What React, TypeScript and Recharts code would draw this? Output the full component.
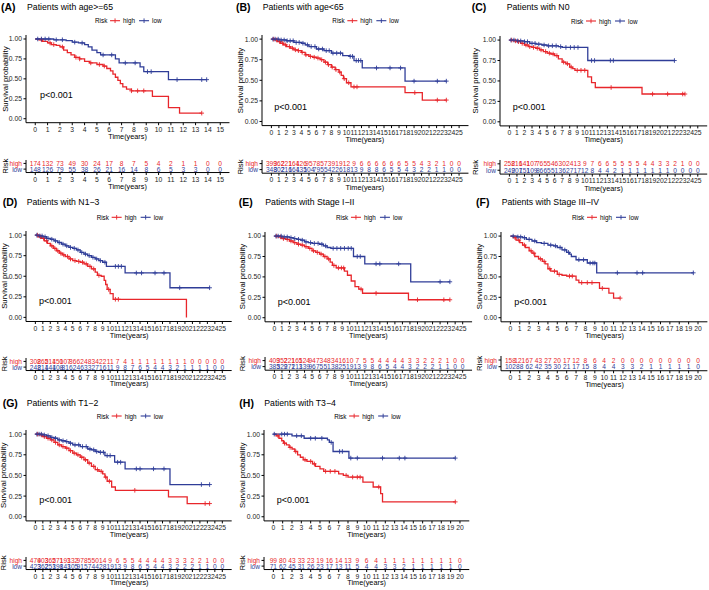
import React from 'react';
import { ComposedChart, Line, Scatter, XAxis, YAxis } from 'recharts';

type Pt = [number, number];

const RED = '#E8262B';
const BLUE = '#2F3D98';
const FONT = '"Liberation Sans", Arial, Helvetica, sans-serif';

const years15 = [0, 1, 2, 3, 4, 5, 6, 7, 8, 9, 10, 11, 12, 13, 14, 15];
const years20 = [0, 1, 2, 3, 4, 5, 6, 7, 8, 9, 10, 11, 12, 13, 14, 15, 16, 17, 18, 19, 20];
const years25 = [0, 1, 2, 3, 4, 5, 6, 7, 8, 9, 10, 11, 12, 13, 14, 15, 16, 17, 18, 19, 20, 21, 22, 23, 24, 25];

// (A) age>=65
const aHigh: Pt[] = [[0, 1], [0.3, 0.99], [0.6, 0.97], [1, 0.95], [1.3, 0.93], [1.7, 0.92], [2, 0.9], [2.3, 0.86], [2.6, 0.83], [2.9, 0.8], [3.2, 0.77], [3.6, 0.75], [4, 0.72], [4.4, 0.7], [5, 0.68], [5.5, 0.66], [5.8, 0.63], [6.1, 0.6], [6.3, 0.56], [6.5, 0.52], [6.7, 0.48], [6.9, 0.44], [7.1, 0.4], [7.4, 0.37], [7.8, 0.35], [9.5, 0.28], [10.8, 0.14], [11.7, 0.07], [13.5, 0.07]];
const aHighCens = [0.5, 1.2, 1.5, 2.2, 3.3, 3.6, 4.5, 5.2, 5.6, 7.8, 8.3, 8.8, 13.5];
const aLow: Pt[] = [[0, 1], [1.5, 0.99], [2.5, 0.98], [3, 0.96], [3.5, 0.95], [4, 0.93], [4.3, 0.9], [4.6, 0.86], [5, 0.83], [5.3, 0.8], [6.5, 0.75], [6.8, 0.7], [8.5, 0.65], [8.8, 0.59], [10.8, 0.49], [13.9, 0.49]];
const aLowCens = [0.2, 0.5, 0.8, 1.1, 1.7, 2.2, 3.2, 3.8, 5.5, 6.2, 7.3, 8.1, 9.1, 9.4, 11.5, 13.5, 13.9];
const aRiskHigh = [174, 132, 73, 49, 30, 24, 17, 8, 7, 5, 4, 2, 1, 1, 0, 0];
const aRiskLow = [148, 126, 79, 55, 38, 26, 21, 16, 14, 8, 6, 5, 3, 3, 0, 0];

// (B) age<65
const bHigh: Pt[] = [[0, 1], [0.4, 0.99], [0.8, 0.97], [1.2, 0.95], [1.6, 0.93], [2, 0.91], [2.5, 0.89], [3, 0.87], [3.5, 0.86], [4, 0.84], [4.5, 0.81], [5, 0.79], [5.5, 0.78], [6, 0.77], [6.5, 0.75], [7, 0.72], [7.5, 0.69], [8, 0.66], [8.5, 0.63], [9, 0.6], [9.3, 0.56], [9.6, 0.52], [10, 0.47], [10.6, 0.42], [17.8, 0.35], [20.1, 0.26], [23.3, 0.26]];
const bHighCens = [0.3, 0.7, 1.1, 1.5, 1.9, 2.4, 2.8, 3.2, 3.6, 4.1, 4.6, 5.2, 5.7, 6.2, 6.7, 7.2, 7.6, 8.1, 8.6, 9.1, 9.7, 10.3, 11, 11.4, 19.1, 22.1, 23.3];
const bLow: Pt[] = [[0, 1], [1, 0.99], [2, 0.98], [3, 0.96], [4, 0.95], [4.5, 0.93], [5, 0.91], [6, 0.88], [7, 0.86], [8, 0.83], [9.5, 0.8], [10.4, 0.79], [11, 0.74], [12.1, 0.65], [17.8, 0.49], [23.3, 0.49]];
const bLowCens = [0.2, 0.5, 0.9, 1.3, 1.7, 2.1, 2.5, 2.9, 3.3, 3.7, 4.2, 4.8, 5.3, 5.8, 6.3, 6.8, 7.3, 7.7, 8.2, 8.7, 9.2, 10.5, 10.8, 11.3, 11.6, 11.9, 14, 15.8, 17.2, 19, 22.1, 23.3];
const bRiskHigh = [399, 362, 221, 164, 126, 95, 78, 57, 39, 19, 12, 9, 6, 6, 6, 6, 6, 6, 5, 5, 4, 3, 2, 1, 0, 0];
const bRiskLow = [348, 302, 216, 164, 135, 104, 79, 55, 42, 26, 18, 13, 9, 8, 8, 6, 5, 5, 4, 3, 2, 2, 1, 1, 0, 0];

// (C) N0
const cHigh: Pt[] = [[0, 1], [0.5, 0.99], [1, 0.98], [1.5, 0.96], [2, 0.94], [2.5, 0.92], [3, 0.91], [3.5, 0.9], [4, 0.88], [4.5, 0.86], [5, 0.84], [5.5, 0.83], [6, 0.81], [6.5, 0.77], [7, 0.73], [7.5, 0.71], [8, 0.67], [8.4, 0.65], [8.7, 0.63], [10.4, 0.55], [10.9, 0.48], [11.4, 0.42], [17.6, 0.34], [23.3, 0.34]];
const cHighCens = [0.3, 0.8, 1.2, 1.7, 2.2, 2.7, 3.2, 3.7, 4.2, 4.8, 5.3, 5.8, 6.3, 7.2, 7.7, 8.2, 9, 9.5, 10, 13.5, 19, 21, 23, 23.3];
const cLow: Pt[] = [[0, 1], [1, 0.99], [2, 0.98], [2.7, 0.96], [3.5, 0.95], [4.3, 0.94], [5, 0.93], [6.5, 0.92], [7, 0.91], [10.4, 0.75], [21.9, 0.75]];
const cLowCens = [0.2, 0.6, 1.1, 1.5, 2, 2.4, 3, 3.4, 3.9, 4.6, 5.2, 5.7, 6.2, 6.8, 7.5, 8.1, 8.6, 9.1, 10.9, 11.3, 13.4, 13.8, 21.9];
const cRiskHigh = [258, 216, 141, 107, 76, 55, 46, 30, 24, 13, 9, 7, 6, 6, 5, 5, 5, 5, 4, 4, 3, 3, 2, 1, 0, 0];
const cRiskLow = [249, 207, 151, 109, 86, 65, 51, 36, 27, 17, 12, 8, 4, 4, 2, 1, 1, 1, 1, 1, 1, 1, 0, 0, 0, 0];

// (D) N1-3
const dHigh: Pt[] = [[0, 1], [0.4, 0.98], [0.8, 0.96], [1.2, 0.93], [1.6, 0.9], [2, 0.87], [2.4, 0.84], [2.8, 0.81], [3.2, 0.78], [3.6, 0.76], [4, 0.74], [4.5, 0.71], [5, 0.69], [5.5, 0.68], [6, 0.67], [6.5, 0.65], [7, 0.62], [7.5, 0.59], [8, 0.55], [8.3, 0.51], [8.8, 0.5], [9.2, 0.45], [9.4, 0.4], [9.6, 0.34], [10, 0.29], [10.4, 0.22], [20.2, 0]];
const dHighCens = [0.3, 0.7, 1.1, 1.5, 2.2, 2.6, 3, 3.4, 3.8, 4.3, 4.7, 5.3, 5.8, 6.3, 6.8, 7.3, 7.8, 8.5, 9.8, 10.7, 11.1];
const dLow: Pt[] = [[0, 1], [0.5, 0.99], [1, 0.98], [1.5, 0.96], [2, 0.95], [2.5, 0.93], [3, 0.91], [3.5, 0.89], [4, 0.87], [4.5, 0.85], [5, 0.84], [5.5, 0.82], [6, 0.79], [6.5, 0.77], [7, 0.75], [7.5, 0.73], [8, 0.71], [8.5, 0.69], [9, 0.67], [9.5, 0.62], [12, 0.54], [18, 0.36], [23.3, 0.36]];
const dLowCens = [0.2, 0.6, 0.9, 1.3, 1.7, 2.2, 2.7, 3.2, 3.7, 4.2, 4.7, 5.2, 5.7, 6.2, 6.7, 7.2, 7.7, 8.2, 8.7, 9.3, 10.7, 11.1, 11.5, 13.5, 14.2, 16, 17.2, 19.3, 23.3];
const dRiskHigh = [308, 265, 214, 150, 107, 86, 62, 48, 34, 22, 11, 7, 4, 1, 1, 1, 1, 1, 1, 1, 1, 0, 0, 0, 0, 0];
const dRiskLow = [248, 214, 144, 108, 81, 62, 46, 33, 27, 16, 11, 9, 8, 7, 6, 5, 4, 4, 3, 2, 1, 1, 1, 1, 0, 0];

// (E) Stage I-II
const eHigh: Pt[] = [[0, 1], [0.5, 0.99], [1, 0.97], [1.5, 0.96], [2, 0.94], [2.5, 0.92], [3, 0.9], [3.5, 0.89], [4, 0.87], [4.5, 0.85], [5, 0.82], [5.5, 0.8], [6, 0.78], [6.5, 0.75], [7, 0.72], [7.4, 0.68], [7.7, 0.64], [8.2, 0.61], [9.3, 0.57], [9.7, 0.52], [10.2, 0.45], [10.7, 0.38], [11.2, 0.35], [11.7, 0.3], [17.8, 0.22], [23.3, 0.22]];
const eHighCens = [0.3, 0.8, 1.2, 1.7, 2.2, 2.7, 3.2, 3.7, 4.2, 4.7, 5.2, 5.7, 6.2, 6.7, 7.2, 7.9, 8.5, 8.9, 9.2, 11.5, 13.5, 19, 22.5, 23.3];
const eLow: Pt[] = [[0, 1], [1, 0.99], [2, 0.98], [2.5, 0.97], [3, 0.96], [3.5, 0.95], [4, 0.93], [4.5, 0.92], [5, 0.91], [6, 0.9], [6.5, 0.88], [7, 0.86], [7.5, 0.85], [10.5, 0.75], [12, 0.66], [18.1, 0.44], [23.3, 0.44]];
const eLowCens = [0.2, 0.5, 0.9, 1.3, 1.7, 2.2, 2.7, 3.2, 3.7, 4.2, 4.8, 5.3, 5.8, 6.3, 6.8, 7.8, 8.3, 8.8, 9.3, 9.8, 10.2, 11, 11.4, 13.5, 14, 16.5, 22, 23.3];
const eRiskHigh = [409, 352, 221, 165, 124, 94, 73, 48, 34, 16, 10, 7, 5, 5, 4, 4, 4, 4, 3, 3, 2, 2, 2, 1, 0, 0];
const eRiskLow = [385, 329, 271, 213, 139, 96, 75, 51, 38, 25, 19, 13, 9, 8, 6, 5, 4, 4, 3, 2, 2, 2, 1, 1, 0, 0];

// (F) Stage III-IV
const fHigh: Pt[] = [[0, 1], [0.3, 0.98], [0.6, 0.95], [1, 0.92], [1.3, 0.89], [1.6, 0.86], [2, 0.82], [2.3, 0.79], [2.6, 0.75], [3, 0.72], [3.4, 0.69], [3.7, 0.66], [4, 0.6], [4.3, 0.57], [5, 0.53], [5.5, 0.52], [6, 0.51], [7, 0.46], [7.3, 0.43], [9.5, 0.36], [10.5, 0.3], [11, 0.24], [11.7, 0.24]];
const fHighCens = [0.5, 0.9, 1.5, 2.2, 2.5, 3.2, 3.6, 4.2, 4.7, 5.2, 6.3, 6.6, 7.6, 8.2, 8.7, 9.8, 11.7];
const fLow: Pt[] = [[0, 1], [0.7, 0.99], [1.3, 0.98], [1.7, 0.96], [2.3, 0.94], [2.8, 0.92], [3.3, 0.91], [4, 0.89], [4.6, 0.88], [5, 0.86], [5.5, 0.83], [6, 0.8], [6.3, 0.78], [6.5, 0.75], [7, 0.71], [8.2, 0.67], [9.2, 0.55], [19.5, 0.55]];
const fLowCens = [0.3, 0.8, 1.1, 1.5, 2, 2.6, 3.6, 4.3, 4.8, 5.3, 5.8, 6.2, 7.3, 7.8, 8.5, 8.8, 9, 11.4, 13.5, 14.1, 19.5];
const fRiskHigh = [158, 121, 67, 43, 27, 20, 17, 12, 8, 6, 4, 2, 0, 0, 0, 0, 0, 0, 0, 0, 0];
const fRiskLow = [102, 88, 62, 42, 35, 30, 21, 17, 15, 8, 4, 4, 3, 3, 2, 1, 1, 1, 1, 1, 0];

// (G) T1-2
const gHigh: Pt[] = [[0, 1], [0.5, 0.99], [1, 0.97], [1.5, 0.95], [2, 0.93], [2.5, 0.9], [3, 0.87], [3.5, 0.85], [4, 0.83], [4.5, 0.8], [5, 0.77], [5.5, 0.75], [6, 0.72], [6.5, 0.69], [7, 0.65], [7.5, 0.61], [8, 0.57], [8.5, 0.55], [9, 0.52], [9.3, 0.48], [9.6, 0.43], [10.2, 0.36], [10.7, 0.32], [17.8, 0.24], [20.3, 0.16], [23.3, 0.16]];
const gHighCens = [0.3, 0.8, 1.2, 1.7, 2.2, 2.7, 3.2, 3.7, 4.2, 4.7, 5.2, 5.7, 6.2, 6.7, 7.2, 7.8, 8.3, 8.8, 9.4, 9.9, 13.3, 22.7, 23.3];
const gLow: Pt[] = [[0, 1], [1, 0.99], [1.5, 0.98], [2, 0.96], [2.5, 0.95], [3, 0.93], [3.5, 0.92], [4, 0.91], [4.5, 0.89], [5, 0.87], [6, 0.85], [7, 0.82], [7.5, 0.81], [8, 0.79], [8.5, 0.78], [9.3, 0.74], [10.6, 0.66], [12, 0.58], [18, 0.39], [23.3, 0.39]];
const gLowCens = [0.2, 0.5, 0.8, 1.2, 1.7, 2.2, 2.7, 3.2, 3.7, 4.2, 4.7, 5.3, 5.8, 6.3, 6.8, 7.3, 7.8, 8.2, 8.7, 9.1, 9.6, 10, 11, 11.4, 13.5, 14, 15.8, 17.2, 22.2, 23.3];
const gRiskHigh = [479, 403, 365, 271, 193, 132, 97, 85, 50, 14, 9, 6, 5, 5, 4, 4, 4, 4, 3, 3, 3, 2, 2, 1, 0, 0];
const gRiskLow = [423, 362, 253, 198, 143, 105, 91, 57, 44, 28, 19, 13, 9, 8, 6, 5, 4, 4, 3, 2, 2, 2, 1, 1, 0, 0];

// (H) T3-4
const hHigh: Pt[] = [[0, 1], [0.3, 0.98], [0.6, 0.95], [0.9, 0.92], [1.1, 0.89], [1.4, 0.87], [1.7, 0.84], [2, 0.82], [2.3, 0.79], [2.6, 0.75], [2.9, 0.72], [3.2, 0.69], [3.6, 0.67], [4.2, 0.64], [4.5, 0.61], [5, 0.58], [5.4, 0.55], [7, 0.52], [7.5, 0.5], [8, 0.48], [9.6, 0.42], [10.7, 0.36], [11.5, 0.28], [11.7, 0.18], [19.5, 0.18]];
const hHighCens = [0.5, 1.2, 1.8, 2.4, 3.4, 4, 4.4, 5.6, 6.1, 6.6, 7.8, 8.5, 9, 9.3, 11.3, 19.5];
const hLow: Pt[] = [[0, 1], [2, 0.98], [3.3, 0.95], [5.8, 0.93], [6, 0.9], [6.4, 0.79], [8.1, 0.71], [19.5, 0.71]];
const hLowCens = [0.1, 0.9, 1.2, 1.5, 2.5, 3, 4, 4.5, 5.2, 6.2, 7.1, 7.4, 8.3, 9, 11.7, 13.5, 14.1, 19.5];
const hRiskHigh = [99, 80, 43, 33, 23, 19, 16, 14, 13, 9, 6, 4, 1, 1, 1, 1, 1, 1, 1, 1, 0];
const hRiskLow = [71, 62, 45, 31, 26, 23, 17, 13, 11, 5, 4, 4, 3, 3, 2, 1, 1, 1, 1, 1, 0];

type PanelSpec = {
  tag: string;
  title: string;
  ticks: number[];
  high: Pt[];
  highCens: number[];
  low: Pt[];
  lowCens: number[];
  riskHigh: number[];
  riskLow: number[];
  // layout, page pixels
  box: { l: number; r: number; t: number; b: number };
  tab: { hi: number; lo: number };
  head: { tagX: number; titleX: number; y: number; legY: number };
  pv: [number, number];
  labX: number;
};

const panels: PanelSpec[] = [
  {
    tag: '(A)', title: 'Patients with age>=65', ticks: years15,
    high: aHigh, highCens: aHighCens, low: aLow, lowCens: aLowCens, riskHigh: aRiskHigh, riskLow: aRiskLow,
    box: { l: 25.8, r: 229.3, t: 35.3, b: 123 }, tab: { hi: 163.3, lo: 169 },
    head: { tagX: 1, titleX: 27, y: 6.5, legY: 20.7 }, pv: [40, 95], labX: 5,
  },
  {
    tag: '(B)', title: 'Patients with age<65', ticks: years25,
    high: bHigh, highCens: bHighCens, low: bLow, lowCens: bLowCens, riskHigh: bRiskHigh, riskLow: bRiskLow,
    box: { l: 261.6, r: 468.1, t: 35.2, b: 125.8 }, tab: { hi: 164, lo: 170 },
    head: { tagX: 236, titleX: 262.7, y: 6.5, legY: 20.7 }, pv: [274.3, 106.7], labX: 240,
  },
  {
    tag: '(C)', title: 'Patients with N0', ticks: years25,
    high: cHigh, highCens: cHighCens, low: cLow, lowCens: cLowCens, riskHigh: cRiskHigh, riskLow: cRiskLow,
    box: { l: 499.9, r: 707.1, t: 35.9, b: 125.8 }, tab: { hi: 164.3, lo: 170.7 },
    head: { tagX: 471.7, titleX: 506.7, y: 6.7, legY: 21 }, pv: [512.7, 106.7], labX: 475,
  },
  {
    tag: '(D)', title: 'Patients with N1\u22123', ticks: years25,
    high: dHigh, highCens: dHighCens, low: dLow, lowCens: dLowCens, riskHigh: dRiskHigh, riskLow: dRiskLow,
    box: { l: 26.3, r: 232, t: 230.9, b: 321.4 }, tab: { hi: 361, lo: 366.7 },
    head: { tagX: 2.7, titleX: 26.7, y: 201.7, legY: 217.3 }, pv: [39, 300.7], labX: 4,
  },
  {
    tag: '(E)', title: 'Patients with Stage I\u2212II', ticks: years25,
    high: eHigh, highCens: eHighCens, low: eLow, lowCens: eLowCens, riskHigh: eRiskHigh, riskLow: eRiskLow,
    box: { l: 264.9, r: 472, t: 231.6, b: 321.4 }, tab: { hi: 360.7, lo: 366.7 },
    head: { tagX: 238.7, titleX: 265.3, y: 201.7, legY: 217.3 }, pv: [277.7, 301.7], labX: 242.7,
  },
  {
    tag: '(F)', title: 'Patients with Stage III\u2212IV', ticks: years20,
    high: fHigh, highCens: fHighCens, low: fLow, lowCens: fLowCens, riskHigh: fRiskHigh, riskLow: fRiskLow,
    box: { l: 501.3, r: 707.7, t: 231.6, b: 321.4 }, tab: { hi: 360, lo: 366.7 },
    head: { tagX: 476, titleX: 501.7, y: 201.7, legY: 217.3 }, pv: [514.3, 301.7], labX: 479,
  },
  {
    tag: '(G)', title: 'Patients with T1\u22122', ticks: years25,
    high: gHigh, highCens: gHighCens, low: gLow, lowCens: gLowCens, riskHigh: gRiskHigh, riskLow: gRiskLow,
    box: { l: 26.3, r: 232, t: 429.9, b: 520.8 }, tab: { hi: 560, lo: 565.7 },
    head: { tagX: 2.7, titleX: 26.7, y: 403.3, legY: 416 }, pv: [39.3, 500], labX: 3.3,
  },
  {
    tag: '(H)', title: 'Patients with T3\u22124', ticks: years20,
    high: hHigh, highCens: hHighCens, low: hLow, lowCens: hLowCens, riskHigh: hRiskHigh, riskLow: hRiskLow,
    box: { l: 264, r: 469.3, t: 429.9, b: 520.8 }, tab: { hi: 560, lo: 565.7 },
    head: { tagX: 239.3, titleX: 264.3, y: 403.3, legY: 416 }, pv: [276.7, 500], labX: 242.7,
  },
];

const YW = 22;
const XH = 16;
const MT = 4;
const MR = 4;
const TICK = { fontSize: 6.8, fill: '#222', fontFamily: FONT };

// survival value of the step curve at time t
const survAt = (curve: Pt[], t: number) => {
  let s = 1;
  for (const [ct, cs] of curve) if (ct <= t) s = cs;
  return s;
};

const plusShape = (color: string) => (props: any) => {
  const { cx, cy } = props;
  if (cx == null || cy == null) return <g />;
  return (
    <g stroke={color} strokeWidth={0.9}>
      <line x1={cx - 2.3} y1={cy} x2={cx + 2.3} y2={cy} />
      <line x1={cx} y1={cy - 2.3} x2={cx} y2={cy + 2.3} />
    </g>
  );
};

function KmPlot({ p }: { p: PanelSpec }) {
  const { l, r, t, b } = p.box;
  const xmax = p.ticks[p.ticks.length - 1];
  const rows = (c: Pt[]) => c.map(([x, y]) => ({ t: x, s: y }));
  const cens = (c: Pt[], ts: number[]) => ts.map((x) => ({ t: x, s: survAt(c, x) }));
  return (
    <div style={{ position: 'absolute', left: l - YW, top: t - MT }}>
      <ComposedChart width={r - l + YW + MR} height={b - t + MT + XH} margin={{ top: MT, right: MR, left: 0, bottom: 0 }}>
        <XAxis type="number" dataKey="t" domain={[-0.05 * xmax, 1.05 * xmax]} ticks={p.ticks} interval={0}
          allowDataOverflow height={XH} tickSize={2.5} tickMargin={1.8} tick={TICK} stroke="#000" />
        <YAxis type="number" domain={[-0.05, 1.05]} ticks={[0, 0.25, 0.5, 0.75, 1]} interval={0}
          tickFormatter={(v: number) => v.toFixed(2)} allowDataOverflow width={YW} tickSize={2.5} tickMargin={1.5}
          tick={TICK} stroke="#000" />
        <Line data={rows(p.high)} dataKey="s" type="stepAfter" stroke={RED} strokeWidth={1.3} dot={false} isAnimationActive={false} />
        <Line data={rows(p.low)} dataKey="s" type="stepAfter" stroke={BLUE} strokeWidth={1.3} dot={false} isAnimationActive={false} />
        <Scatter data={cens(p.high, p.highCens)} dataKey="s" shape={plusShape(RED)} isAnimationActive={false} />
        <Scatter data={cens(p.low, p.lowCens)} dataKey="s" shape={plusShape(BLUE)} isAnimationActive={false} />
      </ComposedChart>
    </div>
  );
}

function RiskTable({ p }: { p: PanelSpec }) {
  const { l, r } = p.box;
  const sp = p.tab.lo - p.tab.hi;
  const top = p.tab.hi - 0.6 * sp;
  const bot = p.tab.lo + 0.6 * sp;
  const xmax = p.ticks[p.ticks.length - 1];
  const hi = p.riskHigh.map((n, i) => ({ t: p.ticks[i], y: 2, n }));
  const lo = p.riskLow.map((n, i) => ({ t: p.ticks[i], y: 1, n }));
  const num = (color: string) => (props: any) => (
    <text x={props.cx} y={props.cy} textAnchor="middle" dominantBaseline="central" fill={color}
      fontSize={6.6} fontFamily={FONT}>{props.payload.n}</text>
  );
  const yTick = (props: any) => {
    const isHigh = props.payload.value === 2;
    return (
      <text x={props.x} y={props.y} textAnchor="end" dominantBaseline="central" fill={isHigh ? RED : BLUE}
        fontSize={6.6} fontFamily={FONT}>{isHigh ? 'high' : 'low'}</text>
    );
  };
  return (
    <div style={{ position: 'absolute', left: l - YW, top: top - MT }}>
      <ComposedChart width={r - l + YW + MR} height={bot - top + MT + XH} margin={{ top: MT, right: MR, left: 0, bottom: 0 }}>
        <XAxis type="number" dataKey="t" domain={[-0.05 * xmax, 1.05 * xmax]} ticks={p.ticks} interval={0}
          allowDataOverflow height={XH} tickSize={2.5} tickMargin={1.8} tick={TICK} stroke="#000" />
        <YAxis type="number" dataKey="y" domain={[0.4, 2.6]} ticks={[1, 2]} interval={0} width={YW}
          tickSize={2.5} tickMargin={1.5} tick={yTick} stroke="#000" />
        <Scatter data={hi} dataKey="y" shape={num(RED)} isAnimationActive={false} />
        <Scatter data={lo} dataKey="y" shape={num(BLUE)} isAnimationActive={false} />
      </ComposedChart>
    </div>
  );
}

function Labels({ p }: { p: PanelSpec }) {
  const { l, r, t, b } = p.box;
  const cx = (l + r) / 2;
  const sp = p.tab.lo - p.tab.hi;
  const tabBot = p.tab.lo + 0.6 * sp;
  const ly = p.head.legY;
  const key = (x: number, color: string) => (
    <g stroke={color} strokeWidth={1.1}>
      <line x1={x} y1={ly} x2={x + 10} y2={ly} />
      <line x1={x + 5} y1={ly - 2.3} x2={x + 5} y2={ly + 2.3} strokeWidth={0.9} />
    </g>
  );
  return (
    <g fontFamily={FONT}>
      <text x={p.head.tagX} y={p.head.y} dominantBaseline="central" fontSize={10.5} fontWeight="bold" fill="#000">{p.tag}</text>
      <text x={p.head.titleX} y={p.head.y} dominantBaseline="central" fontSize={8.7} fill="#000">{p.title}</text>
      <text x={cx - 32.5} y={ly} dominantBaseline="central" fontSize={6.3} fill="#000">Risk</text>
      {key(cx - 17.5, RED)}
      <text x={cx - 4.5} y={ly} dominantBaseline="central" fontSize={6.3} fill="#000">high</text>
      {key(cx + 11.5, BLUE)}
      <text x={cx + 24.5} y={ly} dominantBaseline="central" fontSize={6.3} fill="#000">low</text>
      <text x={p.pv[0]} y={p.pv[1]} dominantBaseline="central" fontSize={9} fill="#000">p&lt;0.001</text>
      <text x={cx} y={b + 13.6} textAnchor="middle" dominantBaseline="central" fontSize={7.3} fill="#000">Time(years)</text>
      <text x={cx} y={tabBot + 13.6} textAnchor="middle" dominantBaseline="central" fontSize={7.3} fill="#000">Time(years)</text>
      <text transform={`translate(${p.labX},${(t + b) / 2}) rotate(-90)`} textAnchor="middle" dominantBaseline="central"
        fontSize={7.8} fill="#000">Survival probability</text>
      <text transform={`translate(${p.labX},${(p.tab.hi + p.tab.lo) / 2}) rotate(-90)`} textAnchor="middle"
        dominantBaseline="central" fontSize={7.8} fill="#000">Risk</text>
    </g>
  );
}

const App = () => {
  return (
    <div style={{ position: 'fixed', left: 0, top: 0, width: 709, height: 590, overflow: 'hidden', background: '#fff' }}>
      {panels.map((p) => (
        <React.Fragment key={p.tag}>
          <KmPlot p={p} />
          <RiskTable p={p} />
        </React.Fragment>
      ))}
      <svg width={709} height={590} style={{ position: 'absolute', left: 0, top: 0, pointerEvents: 'none' }}>
        {panels.map((p) => <Labels key={p.tag} p={p} />)}
      </svg>
    </div>
  );
};

export default App;
